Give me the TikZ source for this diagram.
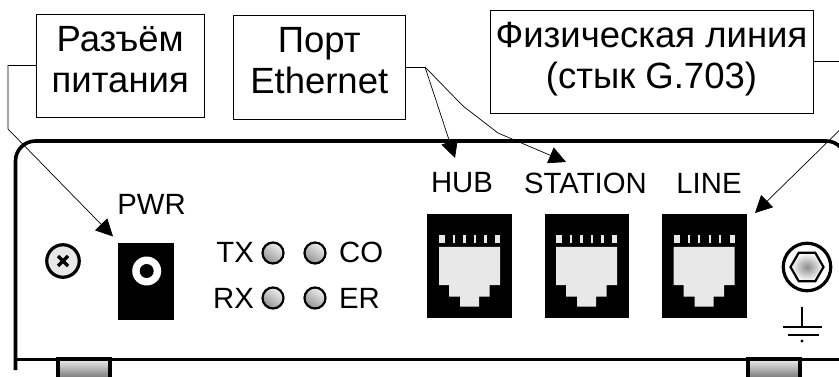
\documentclass[tikz,border=0pt]{standalone}
\usepackage{fontspec}
\setmainfont{Liberation Sans}
\usetikzlibrary{arrows.meta,shadings,shapes.geometric}
\tikzset{
  x=1pt,y=-1pt,
  labelbox/.style={draw=black,line width=0.9pt,inner sep=0pt,font=\fontsize{36.5}{41}\selectfont},
  panellabel/.style={inner sep=0pt,font=\fontsize{29.3}{32}\selectfont},
  leader/.style={draw=black,line width=0.7pt},
  pointer/.style={leader,-{Triangle[length=17pt,width=17pt]}},
  casing/.style={draw=black,line width=3.6pt},
  jackblock/.style={fill=black,draw=none,inner sep=0pt},
  plugshape/.style={fill=black!9,draw=none},
  led/.style={circle,draw=black,line width=2.2pt,minimum size=21pt,inner sep=0pt,top color=black!6,bottom color=black!42,shading angle=-35},
  footshade/.style={top color=black!6,bottom color=black!58},
}
\newcommand{\boxtext}[2]{\raisebox{#1}[0pt][0pt]{\begin{tabular}{@{}c@{}}#2\end{tabular}}}
\newcommand{\plugat}[2]{%
  \begin{scope}[shift={(#1,#2)}]
    \fill[plugshape] (0,0)--(61,0)--(61,38)--(50.5,38)--(50.5,49.5)--(40,49.5)--(40,59.5)--(21,59.5)--(21,49.5)--(10,49.5)--(10,38)--(0,38)--cycle;
    \foreach \a/\b in {0/6,14/16.4,24.3/26.7,35/37.4,45.3/47.7,56/61}
      \fill[plugshape] (\a,-12) rectangle (\b,-3.5);
  \end{scope}}
\begin{document}
\begin{tikzpicture}
\useasboundingbox (0,0) rectangle (839,377);
\clip (0,0) rectangle (839,377);
% feet
\path[footshade,draw=black,line width=3.4pt] (58,359) rectangle (110,380);
\path[footshade,draw=black,line width=3.4pt] (748,359) rectangle (800,380);
% casing
\draw[casing,rounded corners=20pt] (15.5,370)--(15.5,141)--(846,141)--(846,359);
\draw[black,line width=3pt] (15.5,359)--(846,359);
% screw
\node[circle,draw=black,line width=3.2pt,fill=black!9,minimum size=32.5pt,inner sep=0pt] (screw) at (63,261) {};
\draw[black,line width=3.2pt] (58,256)--(68,266) (58,266)--(68,256);
% power jack
\node[jackblock,minimum width=56.5pt,minimum height=77pt] (pwrjack) at (146.2,281.5) {};
\fill[white] (146.7,271) circle (14.5);
\fill[black] (146.7,271) circle (7);
\node[panellabel,anchor=center] (pwr) at (151.5,204.5) {PWR};
% LEDs
\node[led] (ledtx) at (273,253) {};
\node[led] (ledco) at (315,253) {};
\node[led] (ledrx) at (273,298) {};
\node[led] (leder) at (315,298) {};
\node[panellabel,anchor=east] (tx) at (254,252) {TX};
\node[panellabel,anchor=east] (rx) at (254,298) {RX};
\node[panellabel,anchor=west] (co) at (339,252) {CO};
\node[panellabel,anchor=west] (er) at (339,298) {ER};
% sockets
\node[jackblock,minimum width=85pt,minimum height=104pt] (hubjack) at (469.5,266) {};
\node[jackblock,minimum width=84pt,minimum height=104pt] (stjack) at (587,266) {};
\node[jackblock,minimum width=85pt,minimum height=104pt] (linejack) at (704.5,266) {};
\plugat{439}{247}
\plugat{556}{247}
\plugat{673.5}{247}
\node[panellabel] (hub) at (462,183) {HUB};
\node[panellabel] (station) at (585.5,183) {STATION};
\node[panellabel] (line) at (709,183) {LINE};
% bolt
\node[circle,draw=black,line width=3.2pt,fill=white,minimum size=47.5pt,inner sep=0pt] (bolt) at (807,267) {};
\node[regular polygon,regular polygon sides=6,draw=black,line width=2.2pt,inner sep=0pt,minimum size=33pt,inner color=black!45,outer color=white] (hex) at (807,267) {};
% ground
\draw[black,line width=2.4pt] (802,306.7)--(802,327) (783.3,327)--(822,327);
\draw[black,line width=2.4pt] (788,335)--(819,335);
\fill[black] (802,341) circle (1.7);
% labels
\node[labelbox,minimum width=167.5pt,minimum height=103pt] (bpwr) at (120.25,65.5) {\boxtext{-4.5pt}{Разъём\\питания}};
\node[labelbox,minimum width=172.5pt,minimum height=104pt] (beth) at (319.25,67) {\boxtext{-4.5pt}{Порт\\Ethernet}};
\node[labelbox,minimum width=323pt,minimum height=103pt] (bline) at (651.5,61.5) {\boxtext{-4.5pt}{Физическая линия\\(стык G.703)}};
% connectors
\coordinate (tippwr) at (113,236.5);
\coordinate (tiphub) at (455,158);
\coordinate (tipst) at (566,162);
\coordinate (tipline) at (755,213);
\draw[pointer] (bpwr.west)--(8,65.5)--(8,129)--(tippwr);
\coordinate (ethturn) at (425,67);
\draw[leader] (beth.east)--(ethturn);
\draw[pointer] (ethturn)--(tiphub);
\draw[pointer] (ethturn)--(463,106)--(498,133)--(tipst);
\draw[pointer] (bline.east)--(852,61.5)--(852,118)--(tipline);
\end{tikzpicture}
\end{document}
